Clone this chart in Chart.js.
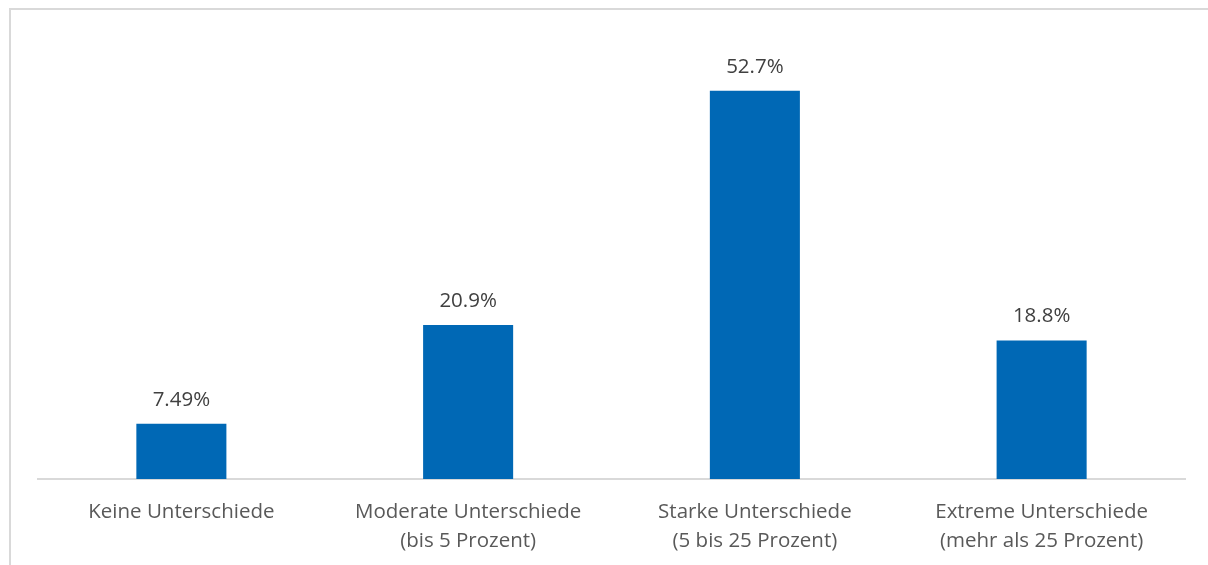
<!DOCTYPE html>
<html>
<head>
<meta charset="utf-8">
<script src="https://cdn.jsdelivr.net/npm/chart.js@4"></script>
<style>
  html, body { margin: 0; padding: 0; background: #fff; }
  #wrap { position: absolute; left: 0; top: 0; width: 1208px; height: 565px; }
  #frame { position: absolute; left: 9px; top: 8px; width: 1300px; height: 700px; border: 2px solid #d9d9d9; box-sizing: border-box; }
  canvas { position: absolute; left: 0; top: 0; }
</style>
</head>
<body>
<div id="wrap">
  <div id="frame"></div>
  <canvas id="c" width="1208" height="565"></canvas>
</div>
<script>
const categories = [
  ["Keine Unterschiede"],
  ["Moderate Unterschiede", "(bis 5 Prozent)"],
  ["Starke Unterschiede", "(5 bis 25 Prozent)"],
  ["Extreme Unterschiede", "(mehr als 25 Prozent)"]
];
const values = [7.49, 20.9, 52.7, 18.8];
const valueLabels = ["7.49%", "20.9%", "52.7%", "18.8%"];

const FONT = "'Open Sans', 'Noto Sans', sans-serif";

const dataLabelPlugin = {
  id: 'dataLabels',
  afterDatasetsDraw(chart) {
    const ctx = chart.ctx;
    const meta = chart.getDatasetMeta(0);
    ctx.save();
    ctx.font = "20.5px " + FONT;
    ctx.fillStyle = '#404040';
    ctx.textAlign = 'center';
    ctx.textBaseline = 'middle';
    meta.data.forEach((bar, i) => {
      ctx.fillText(valueLabels[i], bar.x, bar.y - 24);
    });
    ctx.restore();
  }
};

new Chart(document.getElementById('c'), {
  type: 'bar',
  data: {
    labels: categories,
    datasets: [{
      data: values,
      backgroundColor: '#0068B5',
      borderWidth: 0,
      barPercentage: 0.314,
      categoryPercentage: 1.0
    }]
  },
  options: {
    responsive: false,
    animation: false,
    events: [],
    layout: { padding: { left: 38, right: 23, top: 37, bottom: 0 } },
    plugins: { legend: { display: false }, tooltip: { enabled: false } },
    scales: {
      x: {
        grid: { display: false },
        border: { color: '#d9d9d9', width: 2 },
        ticks: {
          color: '#595959',
          font: { family: FONT, size: 20.5, lineHeight: 1.45 },
          padding: 10,
          maxRotation: 0,
          autoSkip: false
        },
        afterFit(s) { s.height = 86; }
      },
      y: {
        display: false,
        min: 0,
        max: 60
      }
    }
  },
  plugins: [dataLabelPlugin]
});
</script>
</body>
</html>
